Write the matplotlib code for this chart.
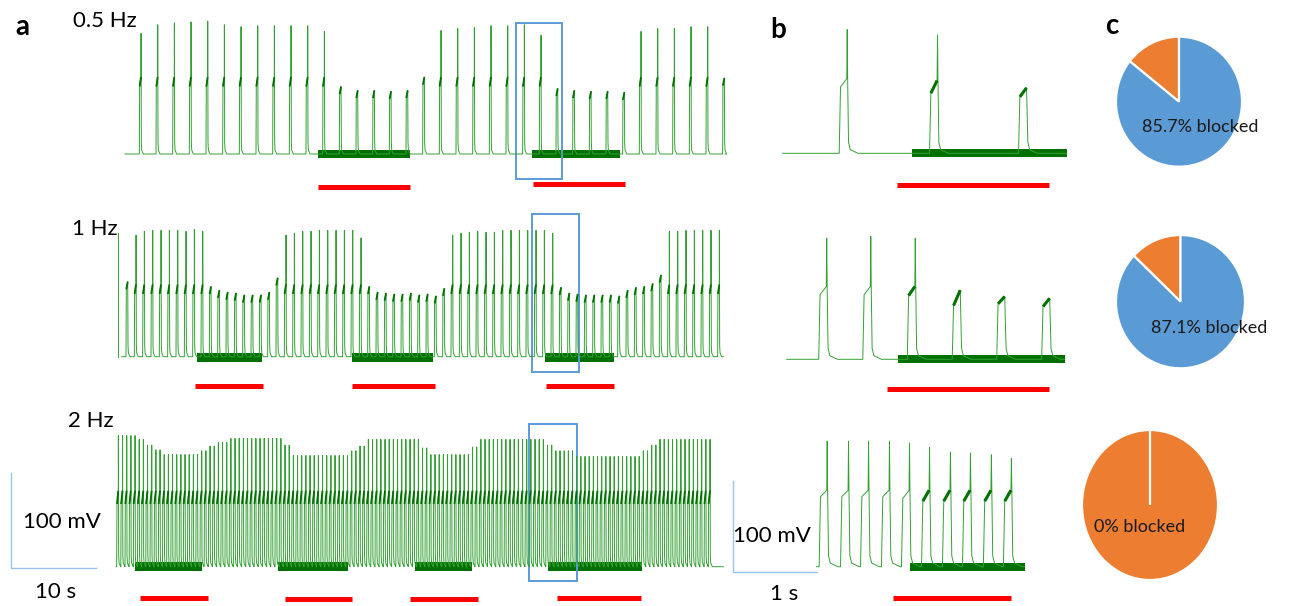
import numpy as np
import matplotlib.pyplot as plt
from matplotlib.collections import LineCollection
from matplotlib.patches import Rectangle

plt.rcParams['font.family'] = ['Lato', 'DejaVu Sans']

W, H = 1295, 606
REST = -80.0

GREEN = '#34a034'
DARK = '#007000'
RED = '#ff0000'
BLUE = '#5b9bd5'
ORANGE = '#ed7d31'
SCALE = '#9dc3e6'

# ---------------- panel a : long recordings (s, mV) ----------------
rates_hz = [0.5, 1, 2]
first_onset_s = [4.72, 3.12, 2.0]
trace_span_s = [(3.0, 75.0), (2.6, 74.8), (1.95, 74.8)]

tops_05hz = [47, 56, 58, 59, 60, 56, 54, 55, 55, 55, 55, 49,
             -9, -13, -13, -14, -13, 1,
             50, 52, 53, 55, 55, 56, 45,
             -11, -13, -14, -14, -15,
             49, 52, 52, 54, 54, 0]
tops_1hz = [-1, 48, 52, 53, 53, 53, 53, 52, 54, 52,
            -6, -10, -12, -13, -15, -15, -15, -12, 3,
            48, 50, 52, 52, 53, 53, 53, 53, 53, 45,
            -6, -12, -13, -14, -14, -13, -15, -14, -16, -8,
            48, 50, 51, 52, 51, 51, 53, 53, 53, 53, 53, 53, 50,
            -7, -13, -14, -15, -15, -15, -15, -16, -10, -7, -6, -3, 6,
            52, 52, 53, 53, 53, 53, 53]
# 2 Hz peaks as (number of spikes, peak mV)
runs_2hz = [(5, 58), (2, 54), (2, 48), (2, 43), (9, 38), (2, 42), (2, 47),
            (3, 51), (13, 55), (2, 48), (14, 37), (2, 42), (2, 47), (13, 54),
            (2, 45), (10, 38), (2, 46), (16, 54), (2, 48), (5, 42), (16, 36),
            (2, 42), (2, 48), (13, 54)]
tops_2hz = np.repeat([r[1] for r in runs_2hz], [r[0] for r in runs_2hz])
artifact_1hz = (2.12, 50)

full_plateau_a = [(-9, 1), (-14, -4), (-14, 0)]
blocks_a = [[(26.2, 37.2), (51.8, 62.4)],
            [(11.6, 19.4), (30.2, 40.0), (53.4, 61.7)],
            [(4.2, 12.2), (21.4, 29.8), (37.8, 44.6), (53.8, 65.0)]]
band_a = [(-4, 4), (-6, 4), (-4.5, 4.5)]
bars_a = [[(26.2, 37.2, -114.7), (52.0, 63.0, -111.6)],
          [(11.4, 19.6, -111), (30.2, 40.2, -111), (53.5, 61.7, -111)],
          [(4.8, 13.0, -113), (22.2, 30.2, -113.5), (37.2, 45.4, -113.5),
           (54.8, 64.9, -113)]]
boxes_a = [(49.9, 55.5, -106, 58), (51.8, 57.5, -96, 70), (51.5, 57.2, -95, 70)]
labels_a = ['0.5 Hz', '1 Hz', '2 Hz']

# ---------------- panel b : zoomed traces ----------------
onsets_b = [[1.33, 3.36, 5.36],
            [0.87, 1.86, 2.86, 3.87, 4.87, 5.88],
            [0.88, 1.36, 1.81, 2.28, 2.73, 3.18, 3.65, 4.10, 4.57, 5.02]]
plat0_b = [[-7, -14, -18],
           [-9, -9, -10, -21, -19, -22],
           [-3, -3, -3, -3, -5, -8, -8, -8, -8, -8]]
plat1_b = [[2, 0, -8],
           [0, 0, 0, -4, -11, -13],
           [4, 4, 4, 4, 4, 4, 4, 4, 4, 4]]
peaks_b = [[56, 50, np.nan],
           [53, 55, 53, np.nan, np.nan, np.nan],
           [58, 58, 58, 58, 56, 51, 46, 45, 43, 39]]
span_b = [(0.06, 6.44), (0.15, 6.4), (0.82, 5.5)]
blocks_b = [(2.96, 6.44), (2.66, 6.4), (2.92, 5.5)]
bars_b = [(2.64, 6.05), (2.4, 6.05), (2.53, 5.18)]
bar_mv_b = [-114.8, -112.6, -114]

# ---------------- panel c ----------------
blocked_pct = [85.7, 87.1, 0.0]

fig = plt.figure(figsize=(W / 100, H / 100), dpi=100)


def place(x0, x1, y0, y1, t_left, px_s, base_px, px_mv):
    ax = fig.add_axes([x0 / W, 1 - y1 / H, (x1 - x0) / W, (y1 - y0) / H])
    ax.set_xlim(t_left, t_left + (x1 - x0) / px_s)
    ax.set_ylim(REST - (y1 - base_px) / px_mv, REST + (base_px - y0) / px_mv)
    ax.axis('off')
    return ax


def build(onsets, p0s, p1s, peaks, t0, t1, stretch=1.0):
    t, v, plat = [t0], [REST], []
    for on, p0, p1, pk in zip(onsets, p0s, p1s, peaks):
        if np.isnan(pk):
            rel = np.array([0, .03, .18, .21, .25, .42]) * stretch
            vals = [REST, p0, p1, REST + 12, REST + 4, REST]
        else:
            rel = np.array([0, .03, .17, .18, .19, .21, .25, .42]) * stretch
            vals = [REST, p0, p1, pk, p1, REST + 12, REST + 4, REST]
        t.extend(on + rel)
        v.extend(vals)
        plat.append([(on + rel[1], p0), (on + rel[2], p1)])
    t.append(t1)
    v.append(REST)
    return np.array(t), np.array(v), plat


rows_px = [(0, 200, 154.0), (200, 400, 356.7), (400, 606, 566.7)]
all_tops = [tops_05hz, tops_1hz, tops_2hz]

for r in range(3):
    y0, y1, base = rows_px[r]
    ax = place(100, 740, y0, y1, 0.0, 8.333, base, 0.95)
    tops = np.asarray(all_tops[r], float)
    onsets = first_onset_s[r] + np.arange(len(tops)) / rates_hz[r]
    full = tops > 20
    p0 = np.where(full, full_plateau_a[r][0], tops - 8)
    p1 = np.where(full, full_plateau_a[r][1], tops)
    pk = np.where(full, tops, np.nan)
    t, v, plat = build(onsets, p0, p1, pk, *trace_span_s[r], stretch=1.15)
    lo, hi = band_a[r]
    for s, e in blocks_a[r]:
        ax.fill_between([s, e], REST + lo, REST + hi, color=DARK, lw=0)
    ax.plot(t, v, color=GREEN, lw=0.7)
    ax.add_collection(LineCollection(plat, colors=DARK, linewidths=1.3))
    if r == 1:
        ax.plot([artifact_1hz[0]] * 2, [REST, artifact_1hz[1]], color=GREEN, lw=0.7)
    for s, e, y in bars_a[r]:
        ax.plot([s, e], [y, y], color=RED, lw=3.6, solid_capstyle='butt')
    bt0, bt1, bv0, bv1 = boxes_a[r]
    ax.add_patch(Rectangle((bt0, bv0), bt1 - bt0, bv1 - bv0, fill=False,
                           ec=BLUE, lw=1.4))

rows_b_px = [(0, 200, 153.3), (200, 400, 359.3), (400, 606, 566.7)]
for r in range(3):
    y0, y1, base = rows_b_px[r]
    ax = place(720, 1085, y0, y1, (720 - 780) / 44.5, 44.5, base, 0.91)
    pk = np.asarray(peaks_b[r], float)
    t, v, plat = build(onsets_b[r], plat0_b[r], plat1_b[r], pk, *span_b[r])
    s, e = blocks_b[r]
    ax.fill_between([s, e], REST - 4.5, REST + 4.5, color=DARK, lw=0)
    ax.plot(t, v, color=GREEN, lw=0.7)
    inblock = [seg for seg, on in zip(plat, onsets_b[r]) if s <= on <= e]
    ax.add_collection(LineCollection(inblock, colors=DARK, linewidths=2.2,
                                     capstyle='butt'))
    ax.plot(bars_b[r], [bar_mv_b[r]] * 2, color=RED, lw=3.6, solid_capstyle='butt')

pie_px = [(1116, 1242, 36.7, 166.7), (1116, 1245, 235, 368.3), (1082, 1218, 430, 580)]
for r in range(3):
    x0, x1, y0, y1 = pie_px[r]
    ax = fig.add_axes([x0 / W, 1 - y1 / H, (x1 - x0) / W, (y1 - y0) / H])
    wedges, _ = ax.pie([blocked_pct[r], 100 - blocked_pct[r]], colors=[BLUE, ORANGE],
                       startangle=90, counterclock=False,
                       wedgeprops=dict(edgecolor='white', linewidth=1.6))
    wedges[0].set_zorder(3)
    ax.set_xlim(-1, 1)
    ax.set_ylim(-1, 1)
    ax.set_aspect('auto')
    ax.axis('off')

# overlay in pixel units for labels and scale bars
ov = fig.add_axes([0, 0, 1, 1])
ov.set_xlim(0, W)
ov.set_ylim(H, 0)
ov.axis('off')

for x, y, s in [(15, 35, 'a'), (770, 38, 'b'), (1105, 34, 'c')]:
    ov.text(x, y, s, fontsize=20, fontweight='bold', va='baseline', ha='left')
for (x, y), s in zip([(73, 27), (72, 235), (68, 427)], labels_a):
    ov.text(x, y, s, fontsize=16, va='baseline', ha='left')

ov.plot([10.7, 10.7, 96], [473, 568, 568], color=SCALE, lw=1)
ov.plot([732.7, 732.7, 816.7], [481, 571.7, 571.7], color=SCALE, lw=1)
ov.text(23, 528, '100 mV', fontsize=16, va='baseline', ha='left')
ov.text(35, 598, '10 s', fontsize=16, va='baseline', ha='left')
ov.text(733, 542, '100 mV', fontsize=16, va='baseline', ha='left')
ov.text(770, 600, '1 s', fontsize=16, va='baseline', ha='left')

for (x, y), p in zip([(1200, 127), (1209, 328), (1140, 527)], blocked_pct):
    ov.text(x, y, f'{p:g}% blocked', fontsize=13, ha='center', va='center',
            color='#1a1a1a')

fig.savefig('out.png', dpi=100)
